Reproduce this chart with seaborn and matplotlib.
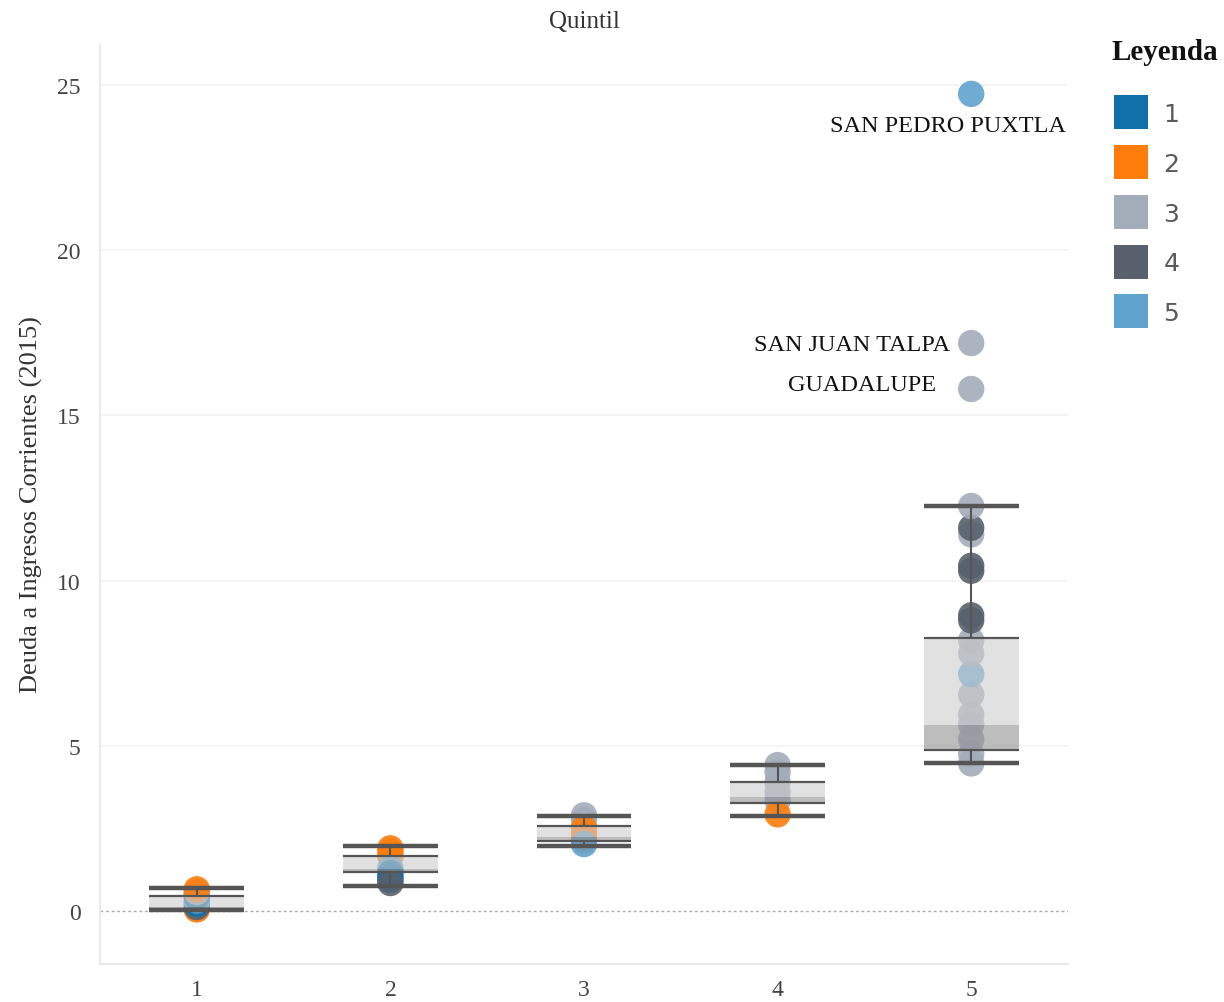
import numpy as np
import pandas as pd
import matplotlib
matplotlib.use("Agg")
import matplotlib.pyplot as plt
from matplotlib.lines import Line2D
import seaborn as sns

# Quintiles on the x axis
quintiles = ["1", "2", "3", "4", "5"]

# Individual municipalities: quintile column, value, colour group (legend)
q1_vals = [0.05, 0.12, 0.22, 0.32, 0.42, 0.50, 0.58, 0.66]
q1_cols = ["2", "4", "1", "5", "1", "1", "3", "2"]
q2_vals = [1.90, 1.80, 1.65, 1.30, 1.15, 1.02, 0.95, 0.85]
q2_cols = ["2", "2", "2", "5", "1", "1", "1", "4"]
q3_vals = [2.90, 2.75, 2.50, 2.30, 2.15, 2.03]
q3_cols = ["3", "3", "2", "2", "2", "5"]
q4_vals = [4.42, 4.20, 3.90, 3.60, 3.35, 2.93]
q4_cols = ["3", "3", "3", "3", "3", "2"]
q5_vals = [4.47, 4.75, 5.20, 5.65, 5.95, 6.55, 7.17, 7.80, 8.20, 8.80, 8.95,
           10.30, 10.45, 11.40, 11.60, 12.26, 15.80, 17.19, 24.73]
q5_cols = ["3", "3", "3", "3", "3", "3", "5", "3", "3", "4", "4",
           "4", "4", "3", "4", "3", "3", "3", "5"]

# Box plot statistics per quintile
whisker_lo = [0.02, 0.76, 1.97, 2.88, 4.48]
box_q1 = [0.05, 1.18, 2.12, 3.27, 4.87]
box_med = [0.14, 1.27, 2.24, 3.45, 5.63]
box_q3 = [0.45, 1.68, 2.57, 3.90, 8.26]
whisker_hi = [0.70, 1.97, 2.88, 4.42, 12.26]

# labelled outliers
outlier_names = ["SAN PEDRO PUXTLA", "SAN JUAN TALPA", "GUADALUPE"]
outlier_vals = [24.73, 17.19, 15.80]

legend_labels = ["1", "2", "3", "4", "5"]
palette = ["#1170aa", "#fc7d0b", "#a3acb9", "#57606c", "#5fa2ce"]

rows = []
for q, vals, cols in zip(quintiles,
                         [q1_vals, q2_vals, q3_vals, q4_vals, q5_vals],
                         [q1_cols, q2_cols, q3_cols, q4_cols, q5_cols]):
    for v, c in zip(vals, cols):
        rows.append({"Quintil": q, "valor": v, "color": c})
df = pd.DataFrame(rows)

sns.set_style("white")
plt.rcParams["font.family"] = ["Liberation Serif", "DejaVu Serif"]

fig = plt.figure(figsize=(12.24, 10.03), dpi=100)
ax = fig.add_axes([100 / 1224, 38 / 1003, 968 / 1224, 920 / 1003])

# points
sns.stripplot(data=df, x="Quintil", y="valor", hue="color", order=quintiles,
              hue_order=legend_labels, palette=palette, jitter=False,
              size=19, alpha=0.9, linewidth=0, legend=False, ax=ax, zorder=2)

# boxes drawn on top (Tableau style, translucent)
pos = np.arange(len(quintiles))
w = 0.49
lo = np.array(box_q1)
md = np.array(box_med)
hi = np.array(box_q3)
ax.bar(pos, md - lo, bottom=lo, width=w, color="#919191", alpha=0.6,
       linewidth=0, zorder=3)
ax.bar(pos, hi - md, bottom=md, width=w, color="#cdcdcd", alpha=0.6,
       linewidth=0, zorder=3)
line_c = "#555555"
ax.hlines(box_q3, pos - w / 2, pos + w / 2, color=line_c, lw=1.6, zorder=4)
ax.hlines(box_q1, pos - w / 2, pos + w / 2, color=line_c, lw=1.6, zorder=4)
ax.vlines(pos, box_q3, whisker_hi, color=line_c, lw=1.5, zorder=4)
ax.vlines(pos, whisker_lo, box_q1, color=line_c, lw=1.5, zorder=4)
ax.hlines(whisker_hi, pos - w / 2, pos + w / 2, color=line_c, lw=3.2, zorder=4)
ax.hlines(whisker_lo, pos - w / 2, pos + w / 2, color=line_c, lw=3.2, zorder=4)

# annotations
offsets = [(68, -23, "right"), (-15, -1, "right"), (-25, 3, "right")]
for name, v, (dx, dy, ha) in zip(outlier_names, outlier_vals, offsets):
    ax.annotate(name, xy=(4, v), xytext=(dx, dy), textcoords="offset points",
                ha=ha, va="center", fontsize=17.5, color="#111111")

# axes styling
ax.set_xlim(-0.5, 4.5)
ax.set_ylim(-1.6, 26.24)
ax.set_yticks([0, 5, 10, 15, 20, 25])
ax.set_yticklabels(["0", "5", "10", "15", "20", "25"])
for yv in [5, 10, 15, 20, 25]:
    ax.axhline(yv, color="#f2f2f2", lw=1.2, zorder=0)
ax.axhline(0, color="#aaaaaa", lw=1, ls=(0, (2, 2)), zorder=1)
ax.set_xticks(np.arange(-0.5, 5, 1), minor=True)
ax.tick_params(axis="x", which="minor", length=10, color="#e6e6e6", width=1)
ax.tick_params(axis="x", which="major", length=0, labelsize=17,
               labelcolor="#444444", pad=11)
ax.tick_params(axis="y", length=0, labelsize=17, labelcolor="#444444", pad=14)
for s in ["top", "right"]:
    ax.spines[s].set_visible(False)
for s in ["left", "bottom"]:
    ax.spines[s].set_color("#e6e6e6")
    ax.spines[s].set_linewidth(1.2)
ax.set_xlabel("")
ax.set_ylabel("Deuda a Ingresos Corrientes (2015)", fontsize=19,
              color="#333333", labelpad=10)
ax.set_title("Quintil", fontsize=18, color="#333333", pad=12)

# legend
fig.text(1112 / 1224, 1 - 52 / 1003, "Leyenda", fontsize=21, weight="bold",
         color="#111111", ha="left", va="center")
handles = [Line2D([0], [0], marker="s", linestyle="", markersize=25,
                  markerfacecolor=c, markeredgewidth=0) for c in palette]
leg = fig.legend(handles, legend_labels, loc="upper left",
                 bbox_to_anchor=(1096 / 1224, 1 - 93 / 1003), frameon=False,
                 prop={"family": "DejaVu Sans", "size": 18},
                 labelspacing=1.03, handletextpad=0.3, borderaxespad=0)
for t in leg.get_texts():
    t.set_color("#5a5a5a")

fig.savefig("out.png", dpi=100)
